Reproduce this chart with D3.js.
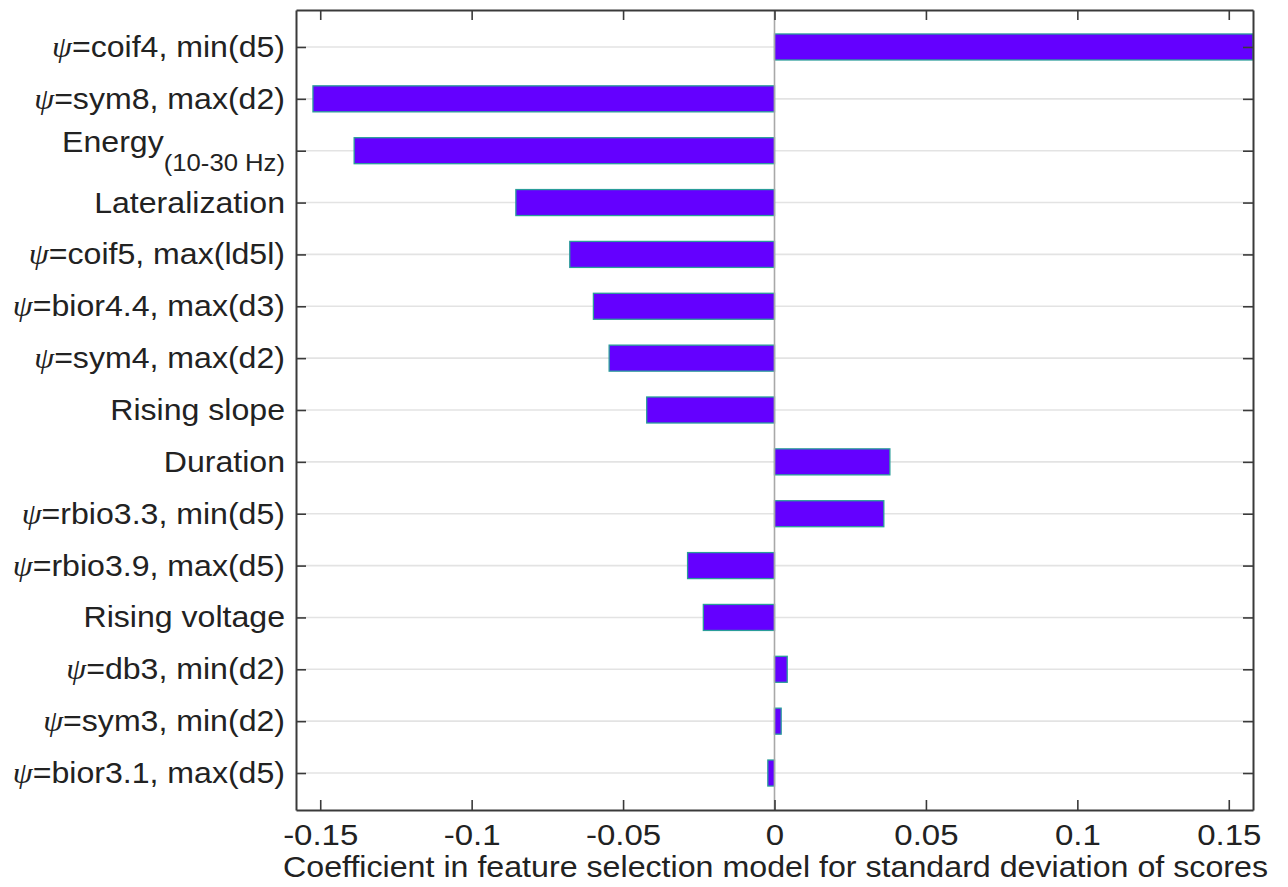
<!DOCTYPE html>
<html><head><meta charset="utf-8">
<script src="https://cdn.jsdelivr.net/npm/d3@7"></script>
<style>body{margin:0;background:#fff}svg{display:block}</style>
</head><body>
<svg id="chart" width="1288" height="887"></svg>
<script>
// ---- data ----
const features = [
  "ψ=coif4, min(d5)", "ψ=sym8, max(d2)", "Energy", "Lateralization",
  "ψ=coif5, max(|d5|)", "ψ=bior4.4, max(d3)", "ψ=sym4, max(d2)", "Rising slope",
  "Duration", "ψ=rbio3.3, min(d5)", "ψ=rbio3.9, max(d5)", "Rising voltage",
  "ψ=db3, min(d2)", "ψ=sym3, min(d2)", "ψ=bior3.1, max(d5)"
];
const labelPrefix = ["ψ","ψ","","","ψ","ψ","ψ","","","ψ","ψ","","ψ","ψ","ψ"];
const labelMain = ["=coif4, min(d5)", "=sym8, max(d2)", "Energy", "Lateralization",
  "=coif5, max(ld5l)", "=bior4.4, max(d3)", "=sym4, max(d2)", "Rising slope",
  "Duration", "=rbio3.3, min(d5)", "=rbio3.9, max(d5)", "Rising voltage",
  "=db3, min(d2)", "=sym3, min(d2)", "=bior3.1, max(d5)"];
const labelSub = ["","","(10-30 Hz)","","","","","","","","","","","",""];
const coefficients = [0.158, -0.1524, -0.1388, -0.0854, -0.0676, -0.0598, -0.0546, -0.0422,
  0.0381, 0.0361, -0.0287, -0.0235, 0.0042, 0.0022, -0.0022];
const xTicks = [-0.15, -0.1, -0.05, 0, 0.05, 0.1, 0.15];
const xTickLabels = ["-0.15", "-0.1", "-0.05", "0", "0.05", "0.1", "0.15"];
const xTitle = "Coefficient in feature selection model for standard deviation of scores";

// ---- layout ----
const L = 296, R = 1253, T = 10, B = 810;
const svg = d3.select("#chart");
const x = d3.scaleLinear().domain([-0.158, 0.158]).range([L, R]);
const y = d3.scalePoint().domain(features).range([T, B]).padding(0.713);
const barH = 26;
const font = "'Liberation Sans', Arial, Helvetica, sans-serif";
const stretch = 1.07;

// gridlines
svg.append("g").selectAll("line").data(features).join("line")
  .attr("x1", L).attr("x2", R)
  .attr("y1", d => y(d)).attr("y2", d => y(d))
  .attr("stroke", "#e3e3e3").attr("stroke-width", 1.6);

// bars
svg.append("g").selectAll("rect").data(features).join("rect")
  .attr("x", (d, i) => Math.min(x(0), x(coefficients[i])))
  .attr("width", (d, i) => Math.abs(x(coefficients[i]) - x(0)))
  .attr("y", d => y(d) - barH / 2)
  .attr("height", barH)
  .attr("fill", "#6400ff")
  .attr("stroke", "#2a9d9a").attr("stroke-width", 1.3);

// zero line
svg.append("line").attr("x1", x(0)).attr("x2", x(0)).attr("y1", T).attr("y2", B)
  .attr("stroke", "#a8a8a8").attr("stroke-width", 1.6);

// axes (box with inward ticks)
const axisColor = "#3a3a3a";
const xb = d3.axisBottom(x).tickValues(xTicks).tickSizeInner(-10).tickSizeOuter(0)
  .tickFormat((d, i) => xTickLabels[i]).tickPadding(20);
const gB = svg.append("g").attr("transform", `translate(0,${B})`).call(xb);
const xt = d3.axisTop(x).tickValues(xTicks).tickSizeInner(-10).tickSizeOuter(0).tickFormat("");
const gT = svg.append("g").attr("transform", `translate(0,${T})`).call(xt);
const yl = d3.axisLeft(y).tickSizeInner(-10).tickSizeOuter(0).tickFormat("");
const gL = svg.append("g").attr("transform", `translate(${L},0)`).call(yl);
const yr = d3.axisRight(y).tickSizeInner(-10).tickSizeOuter(0).tickFormat("");
const gR = svg.append("g").attr("transform", `translate(${R},0)`).call(yr);
[gB, gT, gL, gR].forEach(g => {
  g.select(".domain").attr("stroke", axisColor).attr("stroke-width", 2);
  g.selectAll(".tick line").attr("stroke", axisColor).attr("stroke-width", 1.6);
});
gB.selectAll(".tick text").attr("font-family", font).attr("font-size", 30)
  .attr("fill", "#222").attr("dy", null).attr("y", 0)
  .attr("transform", "translate(0,35) scale(1.1,1)");

// category labels
const labels = svg.append("g");
features.forEach((f, i) => {
  const cy = y(f);
  const t = labels.append("text")
    .attr("transform", `translate(${L - 11},${labelSub[i] ? cy + 1 : cy + 10}) scale(${stretch},1)`)
    .attr("text-anchor", "end")
    .attr("font-family", font).attr("font-size", 30).attr("fill", "#222");
  if (labelPrefix[i]) t.append("tspan").attr("font-family", "'Liberation Serif', 'DejaVu Serif', serif")
      .attr("font-style", "italic").text(labelPrefix[i]);
  t.append("tspan").text(labelMain[i]);
  if (labelSub[i]) t.append("tspan").attr("font-size", 24).attr("dy", 19).text(labelSub[i]);
});

// x title
svg.append("text").attr("x", 775.5).attr("y", 877).attr("text-anchor", "middle")
  .attr("textLength", 985).attr("lengthAdjust", "spacingAndGlyphs")
  .attr("font-family", font).attr("font-size", 29).attr("fill", "#222").text(xTitle);
</script>
</body></html>
